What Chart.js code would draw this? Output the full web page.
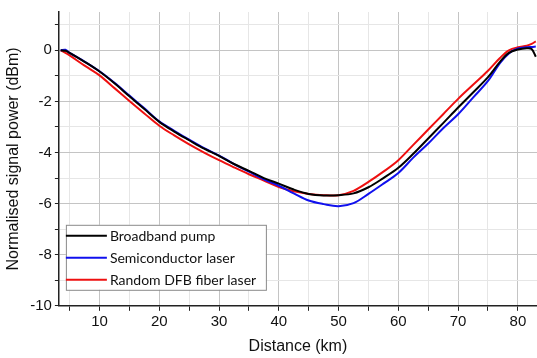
<!DOCTYPE html>
<html lang="en">
<head>
    <meta charset="UTF-8">
    <title>Normalised signal power</title>
    <style>
        body {
            margin: 0;
            padding: 0;
            background-color: #ffffff;
        }
        .chart-box {
            width: 537px;
            height: 358px;
        }
    </style>
</head>
<body>
    <div class="chart-box">
        <canvas id="powerChart" width="537" height="358"></canvas>
    </div>

    <script src="https://cdn.jsdelivr.net/npm/chart.js"></script>
    <script>
        // distance along the fibre (km)
        const distance = [3.5, 4.3, 5, 7.5, 10, 12.5, 15, 17.5, 20, 22.5, 25, 27.5, 30, 32.5, 35, 37.5, 40, 42.5, 45, 47.5, 50,
                          52.5, 55, 57.5, 60, 62.5, 65, 67.5, 70, 72.5, 75, 77, 78.5, 80, 81.5, 82.3, 83];

        // normalised signal power (dBm) for each pump type
        const broadbandPump = [0, -0.02, -0.1, -0.45, -0.83, -1.29, -1.8, -2.3, -2.8, -3.18, -3.52, -3.85, -4.13, -4.45, -4.72, -5.0, -5.22, -5.45, -5.62, -5.68, -5.67,
                               -5.6, -5.36, -5.0, -4.6, -4.05, -3.45, -2.85, -2.24, -1.65, -1.05, -0.45, -0.1, 0.03, 0.08, 0.05, -0.25];
        const semiconductorLaser = [0, 0.02, -0.1, -0.44, -0.82, -1.27, -1.77, -2.27, -2.78, -3.15, -3.5, -3.83, -4.12, -4.45, -4.75, -5.05, -5.3, -5.6, -5.88, -6.02, -6.1,
                                    -5.98, -5.62, -5.22, -4.8, -4.2, -3.65, -3.05, -2.5, -1.85, -1.2, -0.5, -0.12, 0.07, 0.12, 0.13, 0.15];
        const randomDfbLaser = [0, -0.1, -0.2, -0.6, -0.98, -1.48, -1.98, -2.47, -2.95, -3.33, -3.68, -4.0, -4.3, -4.58, -4.85, -5.1, -5.35, -5.52, -5.62, -5.67, -5.67,
                                -5.5, -5.15, -4.75, -4.3, -3.7, -3.1, -2.5, -1.9, -1.35, -0.8, -0.3, 0.0, 0.12, 0.18, 0.25, 0.35];

        const seriesNames = ['Broadband pump', 'Semiconductor laser', 'Random DFB fiber laser'];
        const seriesColors = ['#000000', '#1010ee', '#ee1010'];

        // grid/tick positions: every 5 km and every 1 dB, labelled every 10 km and 2 dB
        const xTickValues = [5, 10, 15, 20, 25, 30, 35, 40, 45, 50, 55, 60, 65, 70, 75, 80];
        const xTicksMajor = [10, 20, 30, 40, 50, 60, 70, 80];
        const yTickValues = [-10, -9, -8, -7, -6, -5, -4, -3, -2, -1, 0, 1];
        const yTicksMajor = [-10, -8, -6, -4, -2, 0];

        function toPoints(values) {
            return distance.map((d, i) => ({ x: d, y: values[i] }));
        }

        // legend box drawn inside the plot, lower left
        const insideLegend = {
            id: 'insideLegend',
            afterDraw(chart) {
                const ctx = chart.ctx;
                const area = chart.chartArea;
                const left = area.left + 7;
                const top = area.bottom - 81;
                const width = 200;
                const height = 65;
                const rowGap = 22;

                ctx.save();
                ctx.fillStyle = '#ffffff';
                ctx.fillRect(left, top, width, height);
                ctx.strokeStyle = '#8a8a8a';
                ctx.lineWidth = 1;
                ctx.strokeRect(left + 0.5, top + 0.5, width, height);

                ctx.font = '14px Lato, "Open Sans", sans-serif';
                ctx.textBaseline = 'middle';
                chart.data.datasets.forEach((ds, i) => {
                    const y = top + 11 + i * rowGap;
                    ctx.strokeStyle = ds.borderColor;
                    ctx.lineWidth = 2;
                    ctx.beginPath();
                    ctx.moveTo(left, y);
                    ctx.lineTo(left + 41, y);
                    ctx.stroke();
                    ctx.fillStyle = '#111111';
                    ctx.fillText(ds.label, left + 44, y + 1);
                });
                ctx.restore();
            }
        };

        const datasets = [broadbandPump, semiconductorLaser, randomDfbLaser].map((values, i) => ({
            label: seriesNames[i],
            data: toPoints(values),
            borderColor: seriesColors[i],
            borderWidth: 2,
            pointRadius: 0,
            tension: 0.35,
            fill: false
        }));

        const majorGrid = '#c4c4c4';
        const minorGrid = '#e6e6e6';
        const axisFont = 'Arial, "Liberation Sans", sans-serif';

        const chartCtx = document.getElementById('powerChart').getContext('2d');
        new Chart(chartCtx, {
            type: 'line',
            data: { datasets: datasets },
            plugins: [insideLegend],
            options: {
                responsive: false,
                animation: false,
                layout: {
                    padding: { top: 4, right: 0, left: 4, bottom: 2 }
                },
                plugins: {
                    legend: { display: false },
                    tooltip: { enabled: false }
                },
                scales: {
                    x: {
                        type: 'linear',
                        min: 3.2,
                        max: 83.2,
                        afterBuildTicks: scale => {
                            scale.ticks = xTickValues.map(v => ({ value: v }));
                        },
                        ticks: {
                            autoSkip: false,
                            maxRotation: 0,
                            color: '#111',
                            font: { family: axisFont, size: 15 },
                            padding: 2,
                            callback: v => xTicksMajor.includes(v) ? String(v) : ''
                        },
                        grid: {
                            color: c => (c.tick && xTicksMajor.includes(c.tick.value)) ? majorGrid : minorGrid,
                            tickColor: '#222',
                            tickLength: 5
                        },
                        border: { color: '#222', width: 1.5 },
                        title: {
                            display: true,
                            text: 'Distance (km)',
                            color: '#111',
                            font: { family: axisFont, size: 16 },
                            padding: { top: 4, bottom: 0 }
                        }
                    },
                    y: {
                        min: -10,
                        max: 1.5,
                        afterBuildTicks: scale => {
                            scale.ticks = yTickValues.map(v => ({ value: v }));
                        },
                        ticks: {
                            autoSkip: false,
                            color: '#111',
                            font: { family: axisFont, size: 15 },
                            padding: 3,
                            callback: v => yTicksMajor.includes(v) ? String(v) : ''
                        },
                        grid: {
                            color: c => (c.tick && yTicksMajor.includes(c.tick.value)) ? majorGrid : minorGrid,
                            tickColor: '#222',
                            tickLength: 4
                        },
                        border: { color: '#222', width: 1.5 },
                        title: {
                            display: true,
                            text: 'Normalised signal power (dBm)',
                            color: '#111',
                            font: { family: axisFont, size: 16 },
                            padding: { top: 0, bottom: 4 }
                        }
                    }
                }
            }
        });
    </script>
</body>
</html>
